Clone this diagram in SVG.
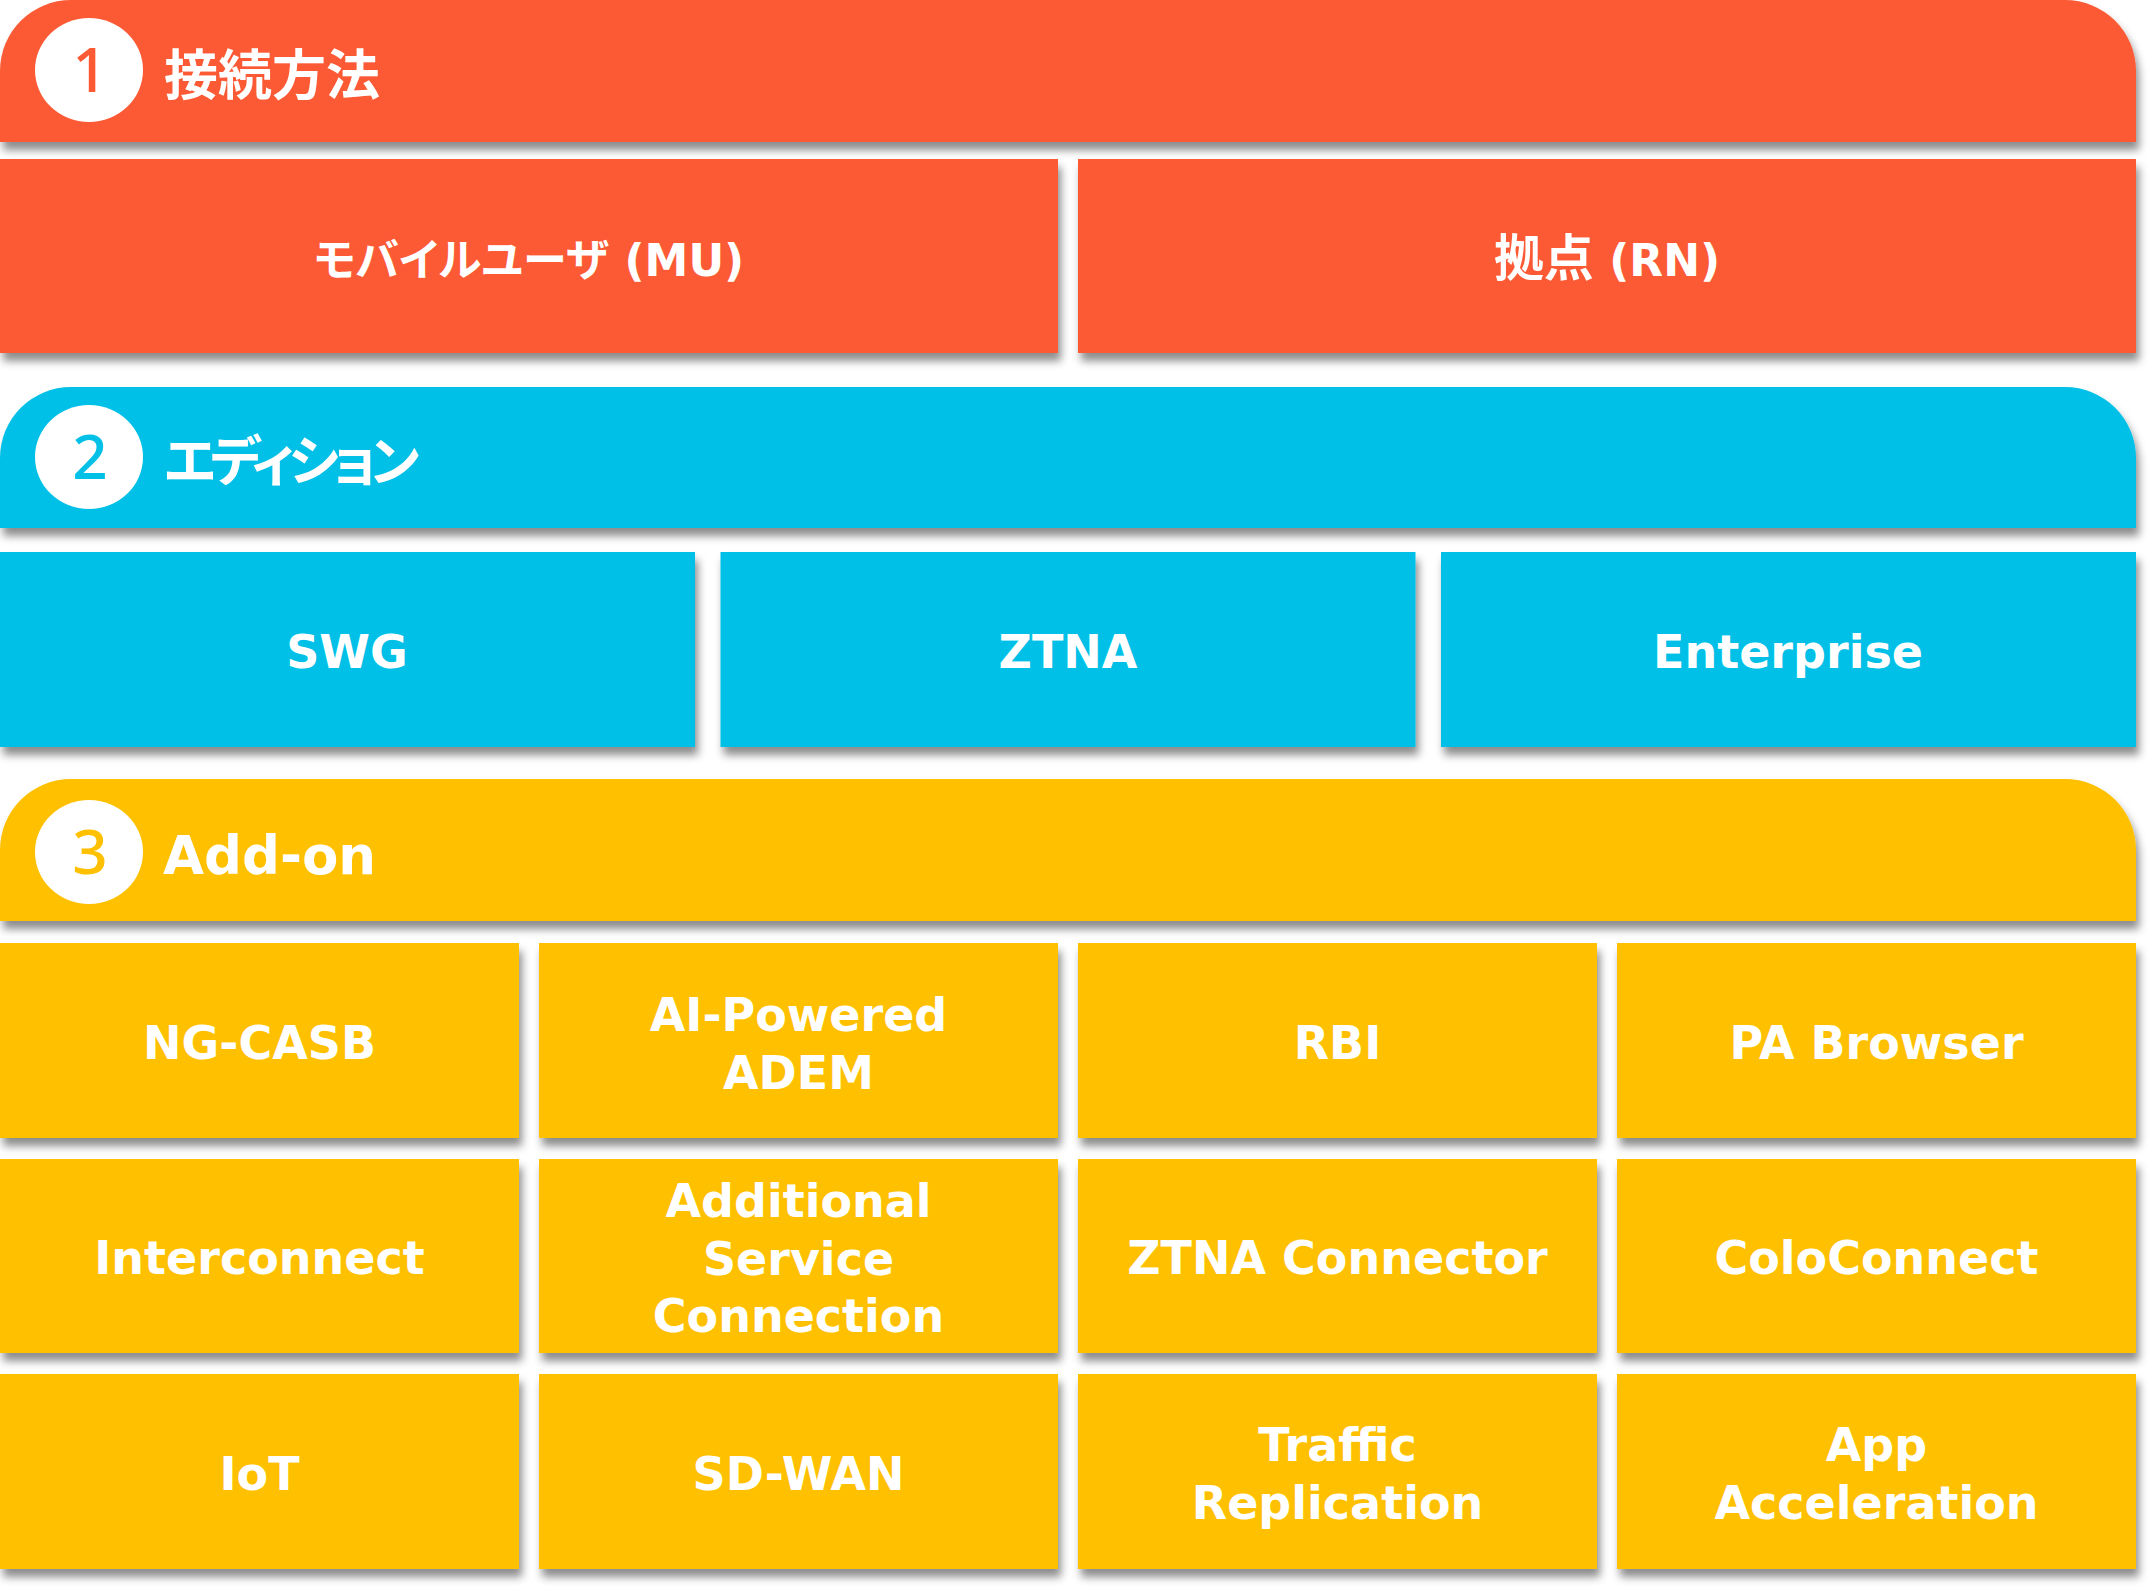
<svg xmlns="http://www.w3.org/2000/svg" width="2150" height="1586" viewBox="0 0 2150 1586">
<defs>
<filter id="sh" x="-5%" y="-20%" width="110%" height="140%">
<feDropShadow dx="3" dy="8" stdDeviation="4" flood-color="#000" flood-opacity="0.45"/>
</filter>
<style>
.o{fill:#FC5A34}
.b{fill:#03C0E7}
.y{fill:#FFC000}
.hd{filter:url(#sh)}
.bx{filter:url(#sh)}
.num{font-family:"Noto Sans","Open Sans",sans-serif;font-weight:500;font-size:62px;text-anchor:middle}
.ht{font-family:"DejaVu Sans","Noto Sans CJK JP",sans-serif;font-weight:bold;font-size:54px;fill:#fff;font-feature-settings:"palt"}
.lt{font-family:"DejaVu Sans","Noto Sans CJK JP",sans-serif;font-weight:bold;font-size:46px;fill:#fff;text-anchor:middle;font-feature-settings:"palt"}
.jt{font-family:"DejaVu Sans","Noto Sans CJK JP",sans-serif;font-weight:bold;font-size:44px;fill:#fff;text-anchor:middle;font-feature-settings:"palt"}
</style>
</defs>
<rect width="2150" height="1586" fill="#fff"/>

<g id="header1">
<path class="o hd" d="M0,71 A71,71 0 0 1 71,0 H2065 A71,71 0 0 1 2136,71 V142 H0 Z"/>
<ellipse cx="89" cy="70" rx="54" ry="52" fill="#fff"/>
<text class="num" x="90" y="92" fill="#FC5A34">1</text>
<text class="ht" x="164" y="95">接続方法</text>
</g>
<g id="mu">
<rect class="o bx" x="0" y="159" width="1058" height="194"/>
<text class="jt" x="529" y="276">モバイルユーザ (MU)</text>
</g>
<g id="rn">
<rect class="o bx" x="1078" y="159" width="1058" height="194"/>
<text class="jt" x="1607" y="276"><tspan style="font-size:50px">拠点</tspan> (RN)</text>
</g>

<g id="header2">
<path class="b hd" d="M0,458 A71,71 0 0 1 71,387 H2065 A71,71 0 0 1 2136,458 V528 H0 Z"/>
<ellipse cx="89" cy="457" rx="54" ry="52" fill="#fff"/>
<text class="num" x="90" y="479" fill="#03C0E7">2</text>
<text class="ht" x="164" y="481" style="letter-spacing:-6px">エディション</text>
</g>
<g id="swg">
<rect class="b bx" x="0" y="552" width="695" height="195"/>
<text class="lt" x="347" y="668">SWG</text>
</g>
<g id="ztna">
<rect class="b bx" x="720.5" y="552" width="695" height="195"/>
<text class="lt" x="1068" y="668">ZTNA</text>
</g>
<g id="enterprise">
<rect class="b bx" x="1441" y="552" width="695" height="195"/>
<text class="lt" x="1788" y="668">Enterprise</text>
</g>

<g id="header3">
<path class="y hd" d="M0,850 A71,71 0 0 1 71,779 H2065 A71,71 0 0 1 2136,850 V921 H0 Z"/>
<ellipse cx="89" cy="852" rx="54" ry="52" fill="#fff"/>
<text class="num" x="90" y="874" fill="#FFC000">3</text>
<text class="ht" x="163" y="874" style="font-size:53px">Add-on</text>
</g>

<g id="ngcasb">
<rect class="y bx" x="0" y="943" width="519" height="195"/>
<text class="lt" x="259.5" y="1059">NG-CASB</text>
</g>
<g id="adem">
<rect class="y bx" x="539" y="943" width="519" height="195"/>
<text class="lt" x="798.5" y="1031">AI-Powered</text>
<text class="lt" x="798.5" y="1089">ADEM</text>
</g>
<g id="rbi">
<rect class="y bx" x="1078" y="943" width="519" height="195"/>
<text class="lt" x="1337.5" y="1059">RBI</text>
</g>
<g id="pabrowser">
<rect class="y bx" x="1617" y="943" width="519" height="195"/>
<text class="lt" x="1876.5" y="1059">PA Browser</text>
</g>

<g id="interconnect">
<rect class="y bx" x="0" y="1159" width="519" height="194"/>
<text class="lt" x="259.5" y="1274">Interconnect</text>
</g>
<g id="asc">
<rect class="y bx" x="539" y="1159" width="519" height="194"/>
<text class="lt" x="798.5" y="1217">Additional</text>
<text class="lt" x="798.5" y="1274.5">Service</text>
<text class="lt" x="798.5" y="1332">Connection</text>
</g>
<g id="ztnaconnector">
<rect class="y bx" x="1078" y="1159" width="519" height="194"/>
<text class="lt" x="1337.5" y="1274">ZTNA Connector</text>
</g>
<g id="coloconnect">
<rect class="y bx" x="1617" y="1159" width="519" height="194"/>
<text class="lt" x="1876.5" y="1274">ColoConnect</text>
</g>

<g id="iot">
<rect class="y bx" x="0" y="1374" width="519" height="195"/>
<text class="lt" x="259.5" y="1490">IoT</text>
</g>
<g id="sdwan">
<rect class="y bx" x="539" y="1374" width="519" height="195"/>
<text class="lt" x="798.5" y="1490">SD-WAN</text>
</g>
<g id="traffic">
<rect class="y bx" x="1078" y="1374" width="519" height="195"/>
<text class="lt" x="1337.5" y="1461">Traffic</text>
<text class="lt" x="1337.5" y="1519">Replication</text>
</g>
<g id="appaccel">
<rect class="y bx" x="1617" y="1374" width="519" height="195"/>
<text class="lt" x="1876.5" y="1461">App</text>
<text class="lt" x="1876.5" y="1519">Acceleration</text>
</g>

<g id="connectors"></g>
</svg>
